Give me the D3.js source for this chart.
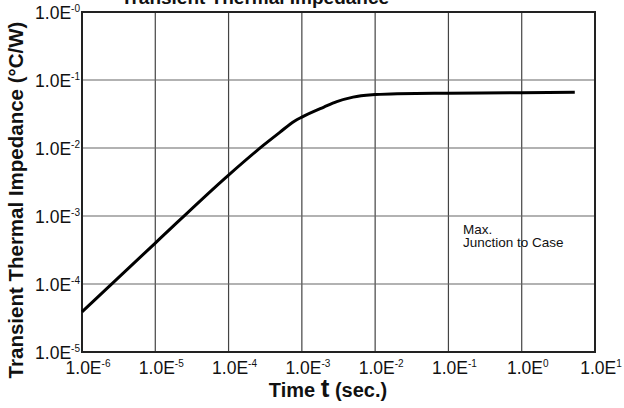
<!DOCTYPE html>
<html>
<head>
<meta charset="utf-8">
<script src="https://cdn.jsdelivr.net/npm/d3@7"></script>
<style>
  body { margin: 0; background: #fff; }
  svg { display: block; font-family: "Liberation Sans", Arial, sans-serif; }
</style>
</head>
<body>
<div id="chart"></div>
<script>
(function () {
  // ---- data ----
  const timeValues = [1e-6, 1e-5, 1e-4, 3e-4, 5e-4, 8e-4, 1e-3, 2e-3, 3e-3, 5e-3, 1e-2, 2e-2, 1e-1, 1, 5.3];
  const impedanceValues = [3.9e-5, 4.0e-4, 4.0e-3, 1.1e-2, 1.7e-2, 2.5e-2, 2.85e-2, 4.0e-2, 4.8e-2, 5.6e-2, 6.1e-2, 6.3e-2, 6.4e-2, 6.5e-2, 6.6e-2];
  const xTickExps = [-6, -5, -4, -3, -2, -1, 0, 1];
  const yTickExps = [-5, -4, -3, -2, -1, 0];

  const data = timeValues.map((t, i) => ({ t: t, z: impedanceValues[i] }));

  const W = 624, H = 408;
  const margin = { top: 12, right: 29, bottom: 56, left: 82 };
  const width = W - margin.left - margin.right;
  const height = H - margin.top - margin.bottom;

  const svg = d3.select("#chart").append("svg")
    .attr("width", W).attr("height", H);

  const g = svg.append("g")
    .attr("transform", `translate(${margin.left},${margin.top})`);

  const x = d3.scaleLog().domain([1e-6, 1e1]).range([0, width]);
  const y = d3.scaleLog().domain([1e-5, 1]).range([height, 0]);

  // grid lines
  g.append("g").selectAll("line")
    .data(xTickExps.slice(1, -1))
    .enter().append("line")
    .attr("x1", d => x(Math.pow(10, d))).attr("x2", d => x(Math.pow(10, d)))
    .attr("y1", 0).attr("y2", height)
    .attr("stroke", "#444").attr("stroke-width", 1.2);

  g.append("g").selectAll("line")
    .data(yTickExps.slice(1, -1))
    .enter().append("line")
    .attr("y1", d => y(Math.pow(10, d))).attr("y2", d => y(Math.pow(10, d)))
    .attr("x1", 0).attr("x2", width)
    .attr("stroke", "#666").attr("stroke-width", 1.2);

  // frame
  g.append("rect")
    .attr("width", width).attr("height", height)
    .attr("fill", "none").attr("stroke", "#222").attr("stroke-width", 2);

  // x tick labels
  const xLab = g.append("g").selectAll("text")
    .data(xTickExps)
    .enter().append("text")
    .attr("x", d => x(Math.pow(10, d)) + 6)
    .attr("y", height + 22)
    .attr("text-anchor", "middle")
    .attr("font-size", 17.5)
    .attr("fill", "#111");
  xLab.append("tspan").text("1.0E");
  xLab.append("tspan").attr("font-size", 10).attr("dy", -7.5)
    .text(d => d < 0 ? "-" + (-d) : String(d));

  // y tick labels
  const yLab = g.append("g").selectAll("text")
    .data(yTickExps)
    .enter().append("text")
    .attr("x", -2)
    .attr("y", d => y(Math.pow(10, d)) + 7)
    .attr("text-anchor", "end")
    .attr("font-size", 17.5)
    .attr("fill", "#111");
  yLab.append("tspan").text("1.0E");
  yLab.append("tspan").attr("font-size", 10).attr("dy", -7.5)
    .text(d => d === 0 ? "-0" : (d < 0 ? "-" + (-d) : String(d)));

  // curve
  const line = d3.line()
    .x(d => x(d.t))
    .y(d => y(d.z))
    .curve(d3.curveMonotoneX);

  g.append("path")
    .datum(data)
    .attr("d", line)
    .attr("fill", "none")
    .attr("stroke", "#000")
    .attr("stroke-width", 3)
    .attr("stroke-linejoin", "round");

  // annotation
  const note = g.append("text")
    .attr("font-size", 13.5).attr("fill", "#111");
  note.append("tspan").attr("x", 381).attr("y", 221.5).text("Max.");
  note.append("tspan").attr("x", 381).attr("y", 235).text("Junction to Case");

  // title (partly above the top edge, as in the original)
  svg.append("text")
    .attr("x", 255).attr("y", 4)
    .attr("text-anchor", "middle")
    .attr("font-size", 19).attr("font-weight", "bold")
    .attr("fill", "#111")
    .text("Transient Thermal Impedance");

  // y axis title
  svg.append("text")
    .attr("transform", "translate(23,200) rotate(-90)")
    .attr("text-anchor", "middle")
    .attr("font-size", 20.5).attr("font-weight", "bold")
    .attr("fill", "#111")
    .text("Transient Thermal Impedance (\u00B0C/W)");

  // x axis title
  const xt = svg.append("text")
    .attr("x", 328).attr("y", 397)
    .attr("text-anchor", "middle")
    .attr("font-size", 20).attr("font-weight", "bold")
    .attr("fill", "#111");
  xt.append("tspan").text("Time ");
  xt.append("tspan").attr("font-size", 26).text("t");
  xt.append("tspan").text(" (sec.)");
})();
</script>
</body>
</html>
